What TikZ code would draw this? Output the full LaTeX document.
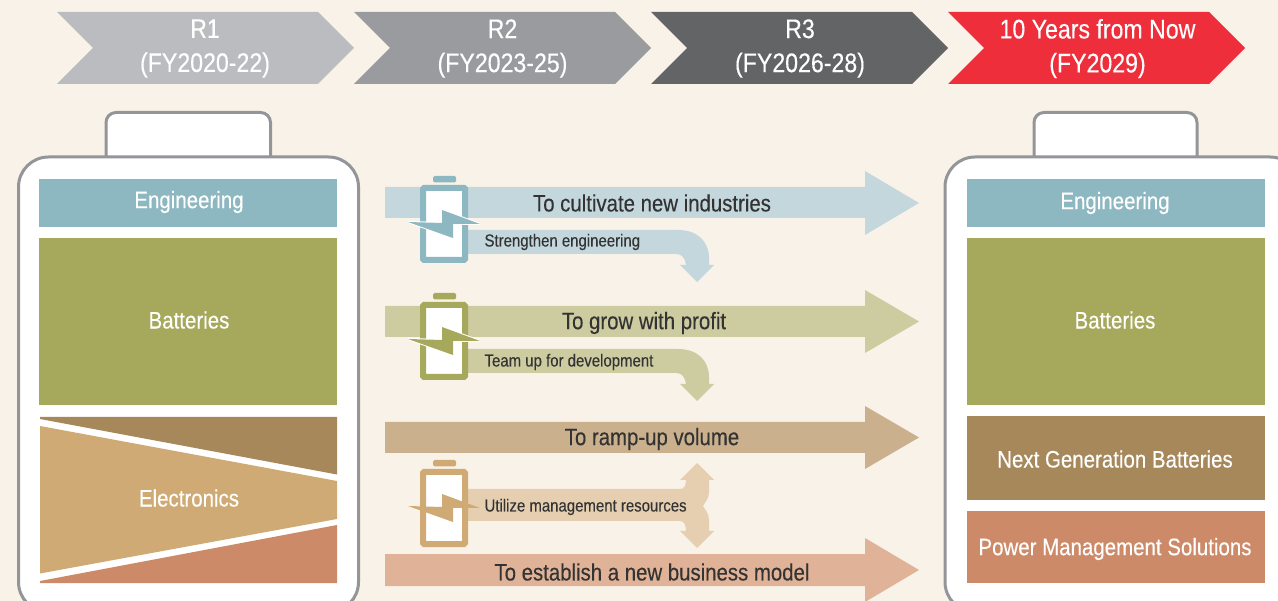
\documentclass[tikz,border=0pt]{standalone}
\usepackage{fontspec}
\setmainfont[FakeStretch=0.86,FakeBold=0.25]{Liberation Sans}
\definecolor{paper}{HTML}{F9F2E8}
\definecolor{rimgray}{HTML}{939598}
\definecolor{phaseA}{HTML}{BBBCBF}
\definecolor{phaseB}{HTML}{9A9B9E}
\definecolor{phaseC}{HTML}{636466}
\definecolor{phaseD}{HTML}{EE2E3A}
\definecolor{engcol}{HTML}{8DB8C1}
\definecolor{batcol}{HTML}{A6A85B}
\definecolor{nextcol}{HTML}{A6885B}
\definecolor{eleccol}{HTML}{CFAA75}
\definecolor{powcol}{HTML}{CC8A68}
\definecolor{engpale}{HTML}{C3D7DD}
\definecolor{batpale}{HTML}{CDCBA0}
\definecolor{nextpale}{HTML}{CBB08E}
\definecolor{elecpale}{HTML}{E5CFB0}
\definecolor{powpale}{HTML}{E0B297}
\definecolor{inkdark}{HTML}{333333}
\tikzset{
  phasetext/.style={text=white,align=center,font=\fontsize{26.9}{34}\selectfont},
  blocktext/.style={text=white,font=\fontsize{23.8}{27}\selectfont},
  goaltext/.style={text=inkdark,font=\fontsize{23.7}{27}\selectfont},
  stepstext/.style={text=inkdark,anchor=west,font=\fontsize{17.4}{20}\selectfont},
  rim/.style={draw=rimgray,line width=3pt,fill=white},
}
% small battery with its lightning bolt, #1 = shift, #2 = colour, #3 = bolt outline
\newcommand{\cellicon}[3]{
  \begin{scope}[yshift=-#1pt]
    \fill[#2,rounded corners=1.5pt] (433,176) rectangle (456,182.5);
    \draw[#2,line width=6pt,fill=white,rounded corners=1pt] (423,188) rectangle (465,260);
    \path[preaction={draw=#3,line width=2pt,miter limit=4},fill=#2] (408,222) -- (442,223) -- (442,210) -- (480,224) -- (453,224) -- (453,238) -- cycle;
  \end{scope}
}
\begin{document}
\begin{tikzpicture}[x=1pt,y=-1pt]
  \useasboundingbox (0,0) rectangle (1278,601);
  \clip (0,0) rectangle (1278,601);
  \fill[paper] (0,0) rectangle (1278,601);

  % phases
  \fill[phaseA] (57,12) -- (318,12) -- (354,48) -- (318,84) -- (57,84) -- (93,48) -- cycle;
  \fill[phaseB] (354,12) -- (615,12) -- (651,48) -- (615,84) -- (354,84) -- (390,48) -- cycle;
  \fill[phaseC] (651,12) -- (912,12) -- (948,48) -- (912,84) -- (651,84) -- (687,48) -- cycle;
  \fill[phaseD] (948,12) -- (1209,12) -- (1245,48) -- (1209,84) -- (948,84) -- (984,48) -- cycle;
  \node[phasetext] (r1) at (205,48.5) {R1\\(FY2020-22)};
  \node[phasetext] (r2) at (502.5,48.5) {R2\\(FY2023-25)};
  \node[phasetext] (r3) at (800,48.5) {R3\\(FY2026-28)};
  \node[phasetext] (r4) at (1097.5,48.5) {10 Years from Now\\(FY2029)};

  % left battery
  \draw[rim,rounded corners=10pt] (106,170) -- (106,112.5) -- (270.5,112.5) -- (270.5,170) -- cycle;
  \draw[rim,rounded corners=30pt] (18.5,157) rectangle (358.5,612);
  \fill[engcol] (39,179) rectangle (337,227);
  \fill[batcol] (39,238) rectangle (337,405);
  \fill[nextcol] (40,417) -- (337,417) -- (337,474.5) -- (40,419) -- cycle;
  \fill[eleccol] (40,426) -- (337,481) -- (337,519) -- (40,573.5) -- cycle;
  \fill[powcol] (40,581) -- (337,525) -- (337,583) -- (40,583) -- cycle;
  \node[blocktext] (leng) at (189,202) {Engineering};
  \node[blocktext] (lbat) at (189,320) {Batteries};
  \node[blocktext] (lelec) at (189,498) {Electronics};

  % right battery
  \draw[rim,rounded corners=10pt] (1034,170) -- (1034,112.5) -- (1197,112.5) -- (1197,170) -- cycle;
  \draw[rim,rounded corners=30pt] (945,157) rectangle (1300,612);
  \fill[engcol] (967,179) rectangle (1265,227);
  \fill[batcol] (967,238) rectangle (1265,405);
  \fill[nextcol] (967,416) rectangle (1265,500);
  \fill[powcol] (967,511) rectangle (1265,583);
  \node[blocktext] (reng) at (1115,203) {Engineering};
  \node[blocktext] (rbat) at (1115,320) {Batteries};
  \node[blocktext] (rnext) at (1115,459) {Next Generation Batteries};
  \node[blocktext] (rpow) at (1115,549) {Power Management Solutions};

  % goal arrows
  \fill[engpale] (385,187) -- (865,187) -- (865,171) -- (919,203) -- (865,235) -- (865,218) -- (385,218) -- cycle;
  \fill[batpale] (385,306) -- (865,306) -- (865,290) -- (919,321.5) -- (865,353) -- (865,337) -- (385,337) -- cycle;
  \fill[nextpale] (385,422) -- (865,422) -- (865,406) -- (919,437.5) -- (865,469) -- (865,453) -- (385,453) -- cycle;
  \fill[powpale] (385,554) -- (865,554) -- (865,538) -- (919,570) -- (865,602) -- (865,586) -- (385,586) -- cycle;

  % step arrows
  \fill[engpale] (460,230) -- (678,230) .. controls (698,230) and (709,242) .. (709,258) -- (709,265) -- (714,265) -- (697,282) -- (680,265) -- (686,265) .. controls (685,258) and (682,254) .. (676,254) -- (460,254) -- cycle;
  \fill[batpale] (460,349) -- (678,349) .. controls (698,349) and (709,361) .. (709,377) -- (709,384) -- (714,384) -- (697,401) -- (680,384) -- (686,384) .. controls (685,377) and (682,373) .. (676,373) -- (460,373) -- cycle;
  \fill[elecpale] (460,489) -- (680,489) .. controls (684,489) and (686,486) .. (686,480) -- (680,480) -- (697,463) -- (714,480) -- (709,480) -- (709,492) .. controls (709,499) and (705,502) .. (703,506) .. controls (705,510) and (709,513) .. (709,520) -- (709,531) -- (714,531) -- (697,548) -- (680,531) -- (686,531) .. controls (686,525) and (684,521) .. (680,521) -- (460,521) -- cycle;

  \cellicon{0}{engcol}{white}
  \cellicon{117}{batcol}{white}
  \cellicon{284}{eleccol}{none}

  \node[goaltext] (g1) at (652,203) {To cultivate new industries};
  \node[goaltext] (g2) at (644,323) {To grow with profit};
  \node[goaltext] (g3) at (652,439) {To ramp-up volume};
  \node[goaltext] (g4) at (652,572) {To establish a new business model};
  \node[stepstext] (s1) at (481,242) {Strengthen engineering};
  \node[stepstext] (s2) at (481,362) {Team up for development};
  \node[stepstext] (s3) at (481,507) {Utilize management resources};
\end{tikzpicture}
\end{document}
